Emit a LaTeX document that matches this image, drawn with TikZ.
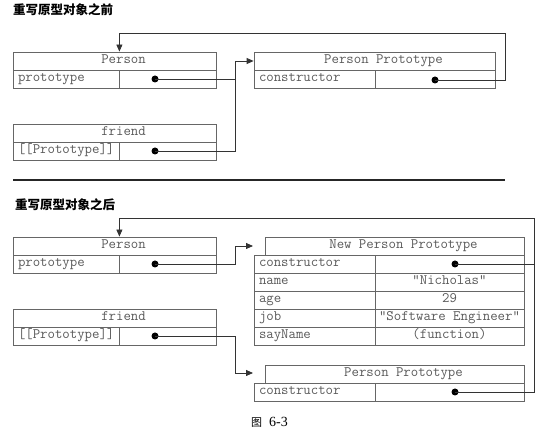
\documentclass[tikz,border=0pt]{standalone}
\usepackage{fontspec}
\setmainfont{Liberation Serif}
\newfontfamily\cjk{Noto Sans CJK SC}
\usetikzlibrary{arrows.meta}
\colorlet{linegray}{black!60}
\colorlet{textgray}{black!65}

\begin{document}
\begin{tikzpicture}
  [x=1pt,y=-1pt,
   cell/.style={rectangle,draw=linegray,line width=0.8pt,inner sep=0pt,
     minimum height=18pt,text height=8.5pt,text depth=2.5pt,text=textgray,
     font=\ttfamily\fontsize{14.4}{16}\selectfont},
   hdr/.style={cell,minimum width=#1,execute at begin node={\hspace*{18pt}}},
   key/.style={cell,inner xsep=5pt,text width=96pt,align=left},
   pkey/.style={cell,inner xsep=5pt,text width=111pt,align=left},
   val/.style={cell,minimum width=#1},
   dot/.style={circle,fill=black,inner sep=0pt,minimum size=7pt},
   link/.style={draw=black!80,line width=0.8pt,-{Triangle[length=7pt,width=6pt]}},
   ttl/.style={anchor=west,inner sep=0pt,font=\cjk\bfseries\fontsize{12.5}{14}\selectfont}]
  \useasboundingbox (0,0) rectangle (550,430);

  % before
  \node[ttl] (t1) at (13,10) {重写原型对象之前};
  \node[hdr=203pt] (per1) at (114.5,61) {Person};
  \node[key] (per1k) at (66,79) {prototype};
  \node[val=97pt] (per1v) at (167.5,79) {};
  \node[dot] (per1d) at (155,79) {};

  \node[hdr=203pt] (fr1) at (114.5,133) {friend};
  \node[key] (fr1k) at (66,151) {{[[Prototype]]}};
  \node[val=97pt] (fr1v) at (167.5,151) {};
  \node[dot] (fr1d) at (155,151) {};

  \node[hdr=241pt] (pp1) at (374.5,61) {Person Prototype};
  \node[pkey] (pp1k) at (314.5,79) {constructor};
  \node[val=120pt] (pp1v) at (435,79) {};
  \node[dot] (pp1d) at (435,80) {};

  \coordinate (j1) at (235,61);
  \coordinate (c1) at (505,33);
  \draw[link] (per1d.center) -| (j1) -- (pp1.west);
  \draw[link,-] (fr1d.center) -| (j1);
  \draw[link] (pp1d.center) -| (c1) -| (per1.north -| per1k.east);

  \draw[line width=1.8pt,black!85] (13,180) -- (505,180);

  % after
  \node[ttl] (t2) at (15,205) {重写原型对象之后};
  \node[hdr=203pt] (per2) at (114.5,246) {Person};
  \node[key] (per2k) at (66,264) {prototype};
  \node[val=97pt] (per2v) at (167.5,264) {};
  \node[dot] (per2d) at (155,264) {};

  \node[hdr=203pt] (fr2) at (114.5,318) {friend};
  \node[key] (fr2k) at (66,336) {{[[Prototype]]}};
  \node[val=97pt] (fr2v) at (167.5,336) {};
  \node[dot] (fr2d) at (155,336) {};

  \node[hdr=259pt] (npp) at (394.5,246) {New Person Prototype};
  \foreach \y/\k/\v in {264/constructor/{},282/name/"Nicholas",300/age/29,
    318/job/"Software Engineer",336/sayName/(function)}
  {
    \node[pkey] (npk\y) at (314.5,\y) {\k};
    \node[val=149pt] (npv\y) at (449.5,\y) {\v};
  }
  \node[dot] (nppd) at (455,264) {};

  \node[hdr=259pt] (pp2) at (394.5,374) {Person Prototype};
  \node[pkey] (pp2k) at (314.5,392) {constructor};
  \node[val=149pt] (pp2v) at (449.5,392) {};
  \node[dot] (pp2d) at (455,392) {};

  \coordinate (j2) at (235,246);
  \coordinate (a2) at (253,246);
  \coordinate (j3) at (235,373);
  \coordinate (a3) at (253,373);
  \coordinate (c2) at (534,218);
  \draw[link] (per2d.center) -| (j2) -- (a2);
  \draw[link] (fr2d.center) -| (j3) -- (a3);
  \draw[link] (pp2d.center) -| (c2) -| (per2.north -| per2k.east);
  \draw[link,-] (nppd.center) -- (nppd -| c2);

  \node[inner sep=0pt] (cap) at (269.5,422)
    {{\cjk\fontsize{11}{13}\selectfont 图}\hspace{7pt}{\fontsize{14}{16}\selectfont 6-3}};
\end{tikzpicture}
\end{document}
